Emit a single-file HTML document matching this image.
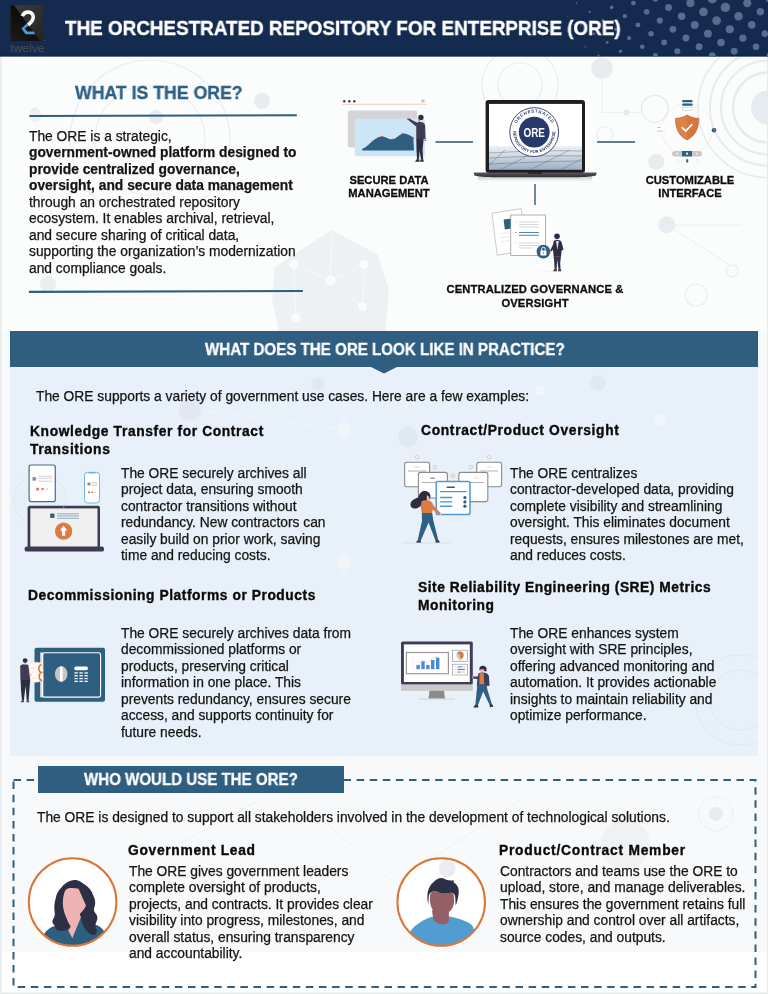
<!DOCTYPE html>
<html><head><meta charset="utf-8">
<style>
*{margin:0;padding:0;box-sizing:border-box}
html,body{width:768px;height:994px;overflow:hidden}
body{position:relative;background:#f8f9fa;font-family:"Liberation Sans",sans-serif;color:#1c1c1c}
.abs{position:absolute}
.t{position:absolute;white-space:nowrap;font-size:13.8px;line-height:16.45px;color:#141414;-webkit-text-stroke:0.25px #141414;will-change:transform}
.h{position:absolute;white-space:nowrap;font-size:13.8px;font-weight:bold;letter-spacing:0.5px;line-height:18.1px;color:#0a0a0a;-webkit-text-stroke:0.35px #0a0a0a;will-change:transform}
.lbl{position:absolute;white-space:nowrap;font-size:11.2px;font-weight:bold;line-height:13px;text-align:center;color:#0d0d0d;-webkit-text-stroke:0.3px #0d0d0d;will-change:transform}
.sq{position:absolute;white-space:nowrap;font-weight:bold;transform-origin:0 0;will-change:transform}
b{font-weight:bold}
</style></head>
<body>
<!-- background decorations -->
<svg class="abs" style="left:0;top:0" width="768" height="994" viewBox="0 0 768 994">
  <rect x="0" y="56" width="768" height="896" fill="#f8f9fa"/>
  <rect x="0" y="56" width="768" height="275" fill="#fbfcfc"/>
  <rect x="0" y="952" width="768" height="42" fill="#ffffff"/>
  <rect x="0" y="0" width="1.5" height="994" fill="#e9eaeb"/>
  <rect x="767" y="0" width="1" height="994" fill="#e9eaeb"/>
  <rect x="0" y="992.5" width="768" height="1.5" fill="#e6e7e8"/>
</svg>


<!-- BG DECOR -->
<svg class="abs" style="left:0;top:56px" width="768" height="280" viewBox="0 56 768 280">
  <g fill="none" stroke="#e9edf1" stroke-width="1.2">
    <circle cx="150" cy="140" r="55"/>
    <circle cx="150" cy="140" r="80"/>
    <circle cx="520" cy="85" r="22"/>
    <circle cx="520" cy="85" r="38"/>
    <circle cx="654.9" cy="108.8" r="13.5" stroke="#e4e9ed"/>
    <circle cx="604.7" cy="134.6" r="8"/>
    <circle cx="696.3" cy="295" r="11" stroke="#eceff2"/>
    <circle cx="732.4" cy="271" r="6"/>
  </g>
  <g fill="none" stroke="#e6ebef">
    <circle cx="768" cy="107.5" r="35" stroke-width="2.5"/>
    <circle cx="768" cy="107.5" r="47" stroke-width="2"/>
    <circle cx="768" cy="107.5" r="58" stroke-width="2"/>
    <circle cx="768" cy="107.5" r="70" stroke-width="1.5"/>
  </g>
  <circle cx="768" cy="107.5" r="17" fill="#e6ebef"/>
  <g fill="#e8ecf0">
    <circle cx="602" cy="68.2" r="10.8"/>
    <circle cx="656.2" cy="161.7" r="8"/>
    <circle cx="666.7" cy="225" r="8.5"/>
    <circle cx="156" cy="117" r="7"/>
    <circle cx="35" cy="113" r="5"/>
    <circle cx="262" cy="101" r="8"/>
  </g>
  <g stroke="#eceff2" stroke-width="1">
    <line x1="602" y1="78" x2="602" y2="112.4"/>
    <line x1="600.6" y1="112.4" x2="641" y2="112.4"/>
    <line x1="666.7" y1="225" x2="742" y2="225"/>
    <line x1="666.7" y1="225" x2="730" y2="265"/>
  </g>
  <circle cx="626.4" cy="112.4" r="3" fill="#e6eaee"/>
  <!-- hexagon network -->
  <polygon points="331.7,230 377.5,254.5 389,290.3 385,336 280,336 272,300 274.4,267.4" fill="#eef1f3"/>
  <g stroke="#f8f9fa" stroke-width="0.8">
    <line x1="293.6" y1="264.5" x2="330.3" y2="280.3"/>
    <line x1="364" y1="264.5" x2="330.3" y2="280.3"/>
    <line x1="362.6" y1="306.6" x2="330.3" y2="280.3"/>
    <line x1="296" y1="318" x2="330.3" y2="280.3"/>
    <line x1="331.7" y1="230" x2="330.3" y2="280.3"/>
    <line x1="293.6" y1="264.5" x2="296" y2="318"/>
    <line x1="364" y1="264.5" x2="362.6" y2="306.6"/>
  </g>
  <g fill="#fafbfc">
    <circle cx="293.6" cy="264.5" r="4.5"/>
    <circle cx="330.3" cy="280.3" r="5"/>
    <circle cx="364" cy="264.5" r="4.5"/>
    <circle cx="362.6" cy="306.6" r="4.5"/>
    <circle cx="296" cy="318" r="4.5"/>
  </g>
</svg>

<!-- HEADER -->
<svg class="abs" style="left:0;top:0" width="768" height="57">
  <rect width="768" height="56.5" fill="#142a4f"/><rect y="54" width="768" height="2.5" fill="#11274b" opacity="0.6"/>
  <g fill="#576d8d"><circle cx="576.6" cy="3.1" r="0.79"/><circle cx="598.5" cy="-1.3" r="1.42"/><circle cx="620.4" cy="-5.7" r="2.06"/><circle cx="567.9" cy="16.2" r="0.51"/><circle cx="589.7" cy="11.8" r="1.15"/><circle cx="611.6" cy="7.4" r="1.80"/><circle cx="633.5" cy="3.1" r="2.44"/><circle cx="655.4" cy="-1.3" r="3.08"/><circle cx="677.3" cy="-5.7" r="3.71"/><circle cx="581.0" cy="24.9" r="0.85"/><circle cx="602.9" cy="20.6" r="1.50"/><circle cx="624.8" cy="16.2" r="2.15"/><circle cx="646.6" cy="11.8" r="2.80"/><circle cx="668.5" cy="7.4" r="3.45"/><circle cx="690.4" cy="3.1" r="4.10"/><circle cx="712.3" cy="-1.3" r="4.74"/><circle cx="734.1" cy="-5.7" r="4.52"/><circle cx="572.2" cy="38.1" r="0.52"/><circle cx="594.1" cy="33.7" r="1.17"/><circle cx="616.0" cy="29.3" r="1.82"/><circle cx="637.9" cy="24.9" r="2.47"/><circle cx="659.8" cy="20.6" r="3.11"/><circle cx="681.6" cy="16.2" r="3.75"/><circle cx="703.5" cy="11.8" r="4.38"/><circle cx="725.4" cy="7.4" r="4.70"/><circle cx="747.3" cy="3.1" r="4.17"/><circle cx="769.2" cy="-1.3" r="3.53"/><circle cx="585.4" cy="46.8" r="0.81"/><circle cx="607.2" cy="42.4" r="1.46"/><circle cx="629.1" cy="38.1" r="2.10"/><circle cx="651.0" cy="33.7" r="2.73"/><circle cx="672.9" cy="29.3" r="3.35"/><circle cx="694.8" cy="24.9" r="3.93"/><circle cx="716.6" cy="20.6" r="4.36"/><circle cx="738.5" cy="16.2" r="4.25"/><circle cx="760.4" cy="11.8" r="3.74"/><circle cx="598.5" cy="55.6" r="1.07"/><circle cx="620.4" cy="51.2" r="1.70"/><circle cx="642.3" cy="46.8" r="2.32"/><circle cx="664.1" cy="42.4" r="2.92"/><circle cx="686.0" cy="38.1" r="3.48"/><circle cx="707.9" cy="33.7" r="3.92"/><circle cx="729.8" cy="29.3" r="4.07"/><circle cx="751.7" cy="24.9" r="3.79"/><circle cx="773.5" cy="20.6" r="3.30"/><circle cx="633.5" cy="59.9" r="1.90"/><circle cx="655.4" cy="55.6" r="2.48"/><circle cx="677.3" cy="51.2" r="3.02"/><circle cx="699.1" cy="46.8" r="3.47"/><circle cx="721.0" cy="42.4" r="3.73"/><circle cx="742.9" cy="38.1" r="3.67"/><circle cx="764.8" cy="33.7" r="3.33"/><circle cx="690.4" cy="59.9" r="3.02"/><circle cx="712.3" cy="55.6" r="3.33"/><circle cx="734.2" cy="51.2" r="3.42"/><circle cx="756.0" cy="46.8" r="3.25"/><circle cx="747.3" cy="59.9" r="3.05"/><circle cx="769.2" cy="55.6" r="2.80"/></g>
  <defs>
    <linearGradient id="lgA" x1="0" y1="0" x2="1" y2="1">
      <stop offset="0" stop-color="#3c3c3c"/><stop offset="1" stop-color="#232323"/>
    </linearGradient>
    <linearGradient id="lgB" x1="1" y1="0" x2="0" y2="1">
      <stop offset="0" stop-color="#000000"/><stop offset="1" stop-color="#1c1c1c"/>
    </linearGradient>
  </defs>
  <rect x="10.3" y="5.2" width="32.9" height="35.8" fill="url(#lgA)"/>
  <polygon points="10.3,5.2 14,5.2 40,41 10.3,41" fill="url(#lgB)"/>
  <path d="M22.3 16.2 C23.5 13.2 26.5 12 28.6 12.1 C31.8 12.3 33.4 14.8 33.2 17.6 C33 20.6 30.5 23 28 25" fill="none" stroke="#fff" stroke-width="3.6" stroke-linecap="butt"/>
  <polygon points="26.8,23.6 28.8,25.6 24.8,28.6 27.2,31.4 33.6,31.4 35.2,34.2 25.6,34.2 21.4,28.6" fill="#4b9bd6"/>
  <text x="10" y="51.5" font-family="Liberation Sans" font-size="11.5" fill="#4e4e4c" textLength="34.5" lengthAdjust="spacingAndGlyphs">twelve</text>
  <circle cx="44.6" cy="40.6" r="0.7" fill="#556"/>
</svg>

<div class="sq" style="left:65px;top:17.3px;font-size:19.9px;color:#fff;line-height:22px;transform:scaleX(0.948);-webkit-text-stroke:0.35px #fff">THE ORCHESTRATED REPOSITORY FOR ENTERPRISE (ORE)</div>

<!-- SECTION 1 ILLUSTRATIONS -->
<svg class="abs" style="left:0;top:0" width="768" height="340" viewBox="0 0 768 340">
  <!-- connectors -->
  <g stroke="#627c91" stroke-width="1.8">
    <line x1="435.5" y1="142" x2="473" y2="142"/>
    <line x1="597" y1="142" x2="635" y2="142"/>
    <line x1="535" y1="184" x2="535" y2="205"/>
  </g>
  <!-- secure data browser bar -->
  <g fill="#3b3a4c"><circle cx="344.3" cy="101.3" r="1.2"/><circle cx="349.3" cy="101.3" r="1.2"/><circle cx="354.3" cy="101.3" r="1.2"/></g>
  <g stroke="#6b6b7b" stroke-width="0.6"><line x1="421.5" y1="100.3" x2="424.5" y2="100.3"/><line x1="421.5" y1="101.8" x2="424.5" y2="101.8"/></g>
  <line x1="342" y1="104.3" x2="427" y2="104.3" stroke="#eab08e" stroke-width="0.6"/>
  <rect x="347.8" y="110.4" width="69.6" height="37" rx="2.5" fill="#d4d4d6"/>
  <rect x="354.7" y="118.8" width="70.2" height="37.4" rx="2" fill="#cde6f5"/>
  <path d="M362.3 150.5 L362.3 148.8 C366 147.5 369.5 143.6 372.4 141.2 C376 138.3 379.5 136.3 382.4 136.6 C386 137 389 139.8 392.4 139.3 C396 138.8 399 134.6 402.4 133.7 C406.5 132.8 410.5 135.5 413.4 137.8 L414 150.5 Z" fill="#2e5f80"/>
  <g fill="#b5564e"><circle cx="372.4" cy="141.2" r="0.8"/><circle cx="382.4" cy="136.6" r="0.8"/><circle cx="392.4" cy="139.3" r="0.8"/><circle cx="402.4" cy="133.7" r="0.8"/><circle cx="413.1" cy="137.6" r="0.8"/></g>
  <!-- person -->
  <path d="M417.5 123 L408.8 118.3 L407.6 119.6 L416.2 126.6 Z" fill="#3f3d56"/>
  <circle cx="407.9" cy="118.9" r="0.9" fill="#b56b5e"/>
  <path d="M416.2 124 C416.5 122.3 418.8 121.8 421 122 C423.8 122.2 425 123.6 425.2 126.5 L425.6 139 L416.3 139 Z" fill="#3f3d56"/>
  <circle cx="425.4" cy="140.2" r="0.9" fill="#b56b5e"/>
  <path d="M416.3 138.8 L423.6 138.8 L422.6 150 L423.2 159.3 L420.9 159.3 L419.6 150.5 L419 159.3 L417 159.3 L416.5 150 Z" fill="#2f2e41"/>
  <path d="M416.5 159.2 L419.4 159.2 L419.6 161.8 L415 161.8 Z M420.8 159.2 L423.4 159.2 L423.8 161.8 L419.8 161.8 Z" fill="#2f2e41"/>
  <circle cx="420.9" cy="117.4" r="2.7" fill="#2f2e41"/>
  <path d="M418.2 117.6 C418.4 119.3 419.1 120 420 120 L420 121.8 L418.6 121.8 Z" fill="#c48a7c"/>

  <!-- laptop -->
  <defs>
    <linearGradient id="floorG" x1="0" y1="0" x2="0" y2="1">
      <stop offset="0" stop-color="#eef1f4"/><stop offset="0.35" stop-color="#d5dde6"/><stop offset="1" stop-color="#9eb0c4"/>
    </linearGradient>
    <linearGradient id="baseG" x1="0" y1="0" x2="0" y2="1">
      <stop offset="0" stop-color="#5a5a60"/><stop offset="1" stop-color="#2b2b30"/>
    </linearGradient>
    <clipPath id="scrClip"><rect x="489" y="103.9" width="93" height="65.5"/></clipPath>
  </defs>
  <rect x="485.6" y="100" width="99.4" height="73" rx="3" fill="#1d1d22"/>
  <rect x="489" y="103.9" width="93" height="65.5" fill="#ffffff"/>
  <rect x="489" y="146" width="93" height="23.4" fill="url(#floorG)"/>
  <g clip-path="url(#scrClip)" stroke="#4d5e75" stroke-width="0.5" fill="none" opacity="0.8">
    <path d="M489 153 C510 152 540 150 582 151"/>
    <path d="M489 158 C515 157 545 155 582 156"/>
    <path d="M489 164 C520 163 550 161 582 161"/>
    <path d="M500 170 L535 152"/>
    <path d="M530 170 L570 150"/>
    <path d="M560 170 L590 155"/>
    <path d="M489 165 L505 150"/>
  </g>
  <circle cx="534.2" cy="132.1" r="24.4" fill="#fff" stroke="#2b3a6b" stroke-width="0.9"/>
  <circle cx="534.2" cy="132.1" r="15.4" fill="#283a6c"/>
  <defs>
    <path id="arcTop" d="M514.7 132.1 A19.5 19.5 0 0 1 553.7 132.1"/>
    <path id="arcBot" d="M513.2 132.1 A21 21 0 0 0 555.2 132.1"/>
  </defs>
  <text font-family="Liberation Sans" font-weight="bold" font-size="4.4" fill="#2b3a6b" letter-spacing="0.6"><textPath href="#arcTop" startOffset="50%" text-anchor="middle">ORCHESTRATED</textPath></text>
  <text font-family="Liberation Sans" font-weight="bold" font-size="4.2" fill="#2b3a6b" letter-spacing="0.1"><textPath href="#arcBot" startOffset="50%" text-anchor="middle">REPOSITORY FOR ENTERPRISE</textPath></text>
  <text x="534.2" y="137" font-family="Liberation Sans" font-weight="bold" font-size="13" fill="#fff" text-anchor="middle" textLength="21.5" lengthAdjust="spacingAndGlyphs">ORE</text>
  <defs><linearGradient id="shG" x1="0" y1="0" x2="0" y2="1"><stop offset="0" stop-color="#c9ccd0"/><stop offset="1" stop-color="#c9ccd0" stop-opacity="0"/></linearGradient></defs><rect x="478" y="176.5" width="114" height="5" fill="url(#shG)"/>
  <path d="M473.7 172.5 L596.7 172.5 L596 175.5 C590 177 580 177.3 570 177.3 L500 177.3 C490 177.3 480 177 474.4 175.5 Z" fill="url(#baseG)"/>
  <rect x="528" y="172.5" width="14" height="1.3" rx="0.6" fill="#1a1a1d"/>

  <!-- customizable interface -->
  <circle cx="687" cy="129" r="25.5" fill="none" stroke="#f6d8c6" stroke-width="0.45"/>
  <rect x="682.3" y="100" width="10.2" height="2.2" rx="0.6" fill="#2e5f80"/>
  <rect x="682.3" y="103.6" width="10.2" height="2.2" rx="0.6" fill="#2e5f80"/>
  <rect x="682.6" y="107.3" width="9.6" height="3" rx="0.8" fill="#fff" stroke="#9fb6c8" stroke-width="0.5"/>
  <rect x="655" y="123.6" width="9.7" height="11.4" rx="1" fill="#fff" stroke="#eef0f2" stroke-width="0.5"/>
  <g stroke="#9cc3de" stroke-width="0.8"><line x1="656.8" y1="127.5" x2="661" y2="127.5"/><line x1="656.8" y1="131.2" x2="663" y2="131.2"/></g>
  <circle cx="714" cy="130.3" r="2.3" fill="#2e5f80"/>
  <circle cx="714" cy="130.3" r="0.8" fill="#7b8a9a"/>
  <path d="M687 115 C691 117.5 695 118.3 698.7 118.3 C699 127 696 135.5 687 140 C678 135.5 675.3 127 675.6 118.3 C679.3 118.3 683 117.5 687 115 Z" fill="#d9773a" stroke="#9a4a22" stroke-width="0.5"/>
  <path d="M687 115.6 C683 118 679.5 118.8 676.2 118.8 C676 127 678.6 135 687 139.3 Z" fill="#e08a50" opacity="0.6"/>
  <path d="M682.3 127.8 L685.8 131 L691.8 124.6" fill="none" stroke="#fff" stroke-width="1.8" stroke-linecap="round" stroke-linejoin="round"/>
  <rect x="672" y="151" width="30" height="5.4" rx="2.7" fill="#c9c9cb"/>
  <rect x="682" y="151" width="10" height="5.4" fill="#2e5f80"/>
  <g fill="#eee"><rect x="676" y="152.8" width="2" height="1.8"/><rect x="696" y="152.8" width="2" height="1.8"/></g>
  <rect x="686" y="152.6" width="2" height="2" fill="#dfe8ef"/>
  <g fill="none" stroke="#e3e3e3" stroke-width="0.4"><rect x="676.5" y="159.5" width="1.8" height="2.8"/><rect x="696.5" y="159.5" width="1.8" height="2.8"/></g>
  <rect x="686.2" y="159.3" width="2" height="3.2" fill="#2e5f80"/>

  <!-- centralized governance -->
  <polygon points="492,213.2 521.2,208.6 526.4,250.4 497.2,255.2" fill="#fff" stroke="#a9a9ab" stroke-width="0.6"/>
  <polygon points="503.6,219.6 512,218.4 513.2,228.2 504.8,229.4" fill="#2e5f80"/>
  <g stroke="#e0e0e0" stroke-width="0.7"><line x1="499.5" y1="234" x2="509" y2="232.5"/><line x1="500" y1="238" x2="509.5" y2="236.5"/><line x1="500.6" y1="242" x2="510" y2="240.5"/></g>
  <rect x="510.8" y="215" width="34.7" height="40.5" fill="#fff" stroke="#8d8d90" stroke-width="0.7"/>
  <g stroke="#bdbdbf" stroke-width="0.6"><line x1="519" y1="222" x2="539" y2="222"/><line x1="519" y1="224.5" x2="539" y2="224.5"/><line x1="519" y1="227" x2="539" y2="227"/><line x1="519" y1="243" x2="539" y2="243"/><line x1="519" y1="245.5" x2="539" y2="245.5"/><line x1="519" y1="248" x2="533" y2="248"/></g>
  <g stroke="#3e7ca8" stroke-width="0.9"><line x1="519" y1="232.5" x2="539" y2="232.5"/><line x1="519" y1="235.3" x2="539" y2="235.3"/></g>
  <g fill="#aaa"><circle cx="516" cy="222" r="0.5"/><circle cx="516" cy="232.5" r="0.6" fill="#3e7ca8"/><circle cx="516" cy="243" r="0.5"/></g>
  <circle cx="543.4" cy="251.6" r="6.8" fill="#2e5f80"/>
  <rect x="540.4" y="250.6" width="6" height="4.8" rx="0.6" fill="#fff"/>
  <path d="M541.6 250.8 L541.6 249 A1.8 1.8 0 0 1 545.2 249 L545.2 250.8" fill="none" stroke="#fff" stroke-width="0.9"/>
  <circle cx="543.4" cy="252.9" r="0.6" fill="#2e5f80"/>
  <!-- person -->
  <circle cx="557" cy="236.2" r="2.8" fill="#2f2e41"/>
  <path d="M555.2 237 C555.3 238.6 556 239.6 557.4 239.6 L557.6 241 L555.4 241 Z" fill="#e3b4a5"/>
  <path d="M553.8 241.2 C554.5 240.2 556 240 557.8 240 C560.2 240.1 561.3 241 561.8 243 L563.5 249.8 L561.6 250.4 L561 256.5 L553.6 256.5 L553 249.8 L550.8 251.8 L550.2 250.4 L552.8 245 Z" fill="#2f2e41"/>
  <path d="M556 241 L557.4 250 L558.8 241 Z" fill="#ddd"/>
  <path d="M553.6 256.3 L561 256.3 L560.2 263 L560.6 269.5 L558.6 269.5 L557.2 260 L556.6 269.5 L554.6 269.5 L554.2 262 Z" fill="#34334a"/>
  <path d="M554.2 269.3 L556.8 269.3 L557 271.4 L553 271.4 Z M558.4 269.3 L560.8 269.3 L561.4 271.4 L557.8 271.4 Z" fill="#2f2e41"/>
  <path d="M549.6 251.5 L551.2 251 L551.6 252.6 L550.2 253 Z" fill="#e3b4a5"/>
  <line x1="540" y1="271.4" x2="570" y2="271.4" stroke="#eceef0" stroke-width="0.6"/>
</svg>

<!-- SECTION 1 -->
<div class="sq" style="left:74.5px;top:82.5px;font-size:18.2px;color:#2e5f86;line-height:20px;transform:scaleX(0.972);-webkit-text-stroke:0.3px #2e5f86">WHAT IS THE ORE?</div>
<svg class="abs" style="left:0;top:100px" width="320" height="200" viewBox="0 100 320 200"><circle cx="35.1" cy="116.5" r="6" fill="#eef1f4"/><circle cx="48" cy="284" r="8" fill="#eceff2"/><line x1="29.4" y1="116" x2="296.8" y2="115.2" stroke="#2f5e80" stroke-width="2.1"/><line x1="28.9" y1="291.9" x2="302.9" y2="291" stroke="#2f5e80" stroke-width="2.1"/></svg>
<div class="t" style="left:28.9px;top:129px">The ORE is a strategic,<br><b>government-owned platform designed to<br>provide centralized governance,<br>oversight, and secure data management</b><br>through an orchestrated repository<br>ecosystem. It enables archival, retrieval,<br>and secure sharing of critical data,<br>supporting the organization’s modernization<br>and compliance goals.</div>


<div class="lbl" style="left:338px;top:174px;width:102px">SECURE DATA<br>MANAGEMENT</div>
<div class="lbl" style="left:630px;top:174px;width:120px">CUSTOMIZABLE<br>INTERFACE</div>
<div class="lbl" style="left:434.6px;top:281.5px;width:200px;line-height:14px;letter-spacing:0.15px">CENTRALIZED GOVERNANCE &amp;<br>OVERSIGHT</div>

<!-- SECTION 2 -->
<div class="abs" style="left:10px;top:331px;width:748px;height:425px;background:#e8f1f9"></div>
<svg class="abs" style="left:10px;top:366px" width="748" height="390" viewBox="10 366 748 390">
  <line x1="344" y1="366" x2="344" y2="756" stroke="#f0f5f9" stroke-width="1.2"/>
  <line x1="200" y1="410" x2="344" y2="430" stroke="#f0f5f9" stroke-width="1"/>
  <line x1="344" y1="430" x2="470" y2="380" stroke="#f0f5f9" stroke-width="1"/>
  <g fill="#f2f6fa"><circle cx="344" cy="430" r="7"/><circle cx="344" cy="562" r="7"/><circle cx="660" cy="420" r="6"/><circle cx="540" cy="390" r="5"/></g>
  <g fill="#e1e9f0"><circle cx="190" cy="410" r="11"/><circle cx="318" cy="384" r="7"/><circle cx="408" cy="437" r="10"/><circle cx="598" cy="383" r="8"/></g>
  <g fill="none" stroke="#e0e8ef" stroke-width="1"><circle cx="40" cy="500" r="16"/><circle cx="40" cy="500" r="26"/><circle cx="740" cy="700" r="30"/><circle cx="740" cy="700" r="45"/></g>
</svg>
<div class="abs" style="left:10px;top:331px;width:748px;height:36px;background:#2f5e80"></div>
<svg class="abs" style="left:369px;top:366px" width="30" height="8"><polygon points="0,0 30,0 15,7.5" fill="#2f5e80"/></svg>
<div class="sq" style="left:205px;top:340.5px;font-size:16px;color:#fff;line-height:18px;transform:scaleX(0.946);-webkit-text-stroke:0.3px #fff">WHAT DOES THE ORE LOOK LIKE IN PRACTICE?</div>

<!-- SECTION 2 ILLUSTRATIONS -->
<svg class="abs" style="left:0;top:440px" width="768" height="290" viewBox="0 440 768 290">
  <!-- knowledge transfer -->
  <rect x="29.1" y="465" width="26.2" height="36.6" rx="2.2" fill="#fff" stroke="#3d6f94" stroke-width="1.2"/>
  <rect x="32.5" y="477.2" width="3.6" height="3.4" fill="#8a8a8a"/>
  <g stroke="#b3b3b3" stroke-width="0.6"><line x1="38.2" y1="476.3" x2="52" y2="476.3"/><line x1="38.2" y1="478.3" x2="52" y2="478.3"/><line x1="38.2" y1="481.2" x2="52" y2="481.2"/></g>
  <g fill="#dd7a3f"><circle cx="37.6" cy="489" r="1.6"/><circle cx="42.6" cy="489" r="1.2"/><circle cx="47.3" cy="489" r="0.6"/></g>
  <rect x="84.5" y="472.4" width="15" height="30.6" rx="2.8" fill="#fff" stroke="#62aee2" stroke-width="0.9"/>
  <rect x="88.5" y="472.3" width="7" height="1.3" rx="0.6" fill="#62aee2"/>
  <rect x="87.5" y="482.6" width="3" height="2.8" fill="#8a8a8a"/>
  <g stroke="#b3b3b3" stroke-width="0.5"><line x1="91.5" y1="482.5" x2="97.5" y2="482.5"/><line x1="91.5" y1="484" x2="97.5" y2="484"/><line x1="91.5" y1="485.6" x2="97.5" y2="485.6"/></g>
  <g fill="#dd7a3f"><circle cx="89" cy="492.3" r="1.1"/><circle cx="92" cy="492.3" r="0.9"/><circle cx="95.3" cy="492.3" r="0.5"/></g>
  <rect x="27.6" y="505.8" width="72.4" height="42" rx="2" fill="#3d3b52"/>
  <rect x="30.3" y="508.4" width="67.2" height="38.8" fill="#f0f0f0"/>
  <circle cx="63.8" cy="507.1" r="0.6" fill="#ddd"/>
  <rect x="50.2" y="513.6" width="4.3" height="4.3" fill="#2e5f80"/>
  <g stroke="#4b7ea3" stroke-width="0.6"><line x1="57" y1="513.8" x2="79" y2="513.8"/><line x1="57" y1="515.9" x2="79" y2="515.9"/><line x1="57" y1="518.3" x2="79" y2="518.3"/></g>
  <circle cx="63.6" cy="531.2" r="8.6" fill="#dd7a3f"/>
  <path d="M63.6 525.6 L67.2 530.6 L65.2 530.6 L65.2 535.8 L62 535.8 L62 530.6 L60 530.6 Z" fill="#fff"/>
  <rect x="24.6" y="546.6" width="79.4" height="5" rx="2.2" fill="#3d3b52"/>

  <!-- contract / product oversight -->
  <g fill="#fff" stroke="#8a8a8a" stroke-width="1.1">
    <rect x="404.6" y="462.2" width="25" height="24.5" rx="2.2"/>
    <rect x="476.8" y="462.2" width="24.8" height="24.5" rx="2.2"/>
    <rect x="418.4" y="472.4" width="29" height="25.6" rx="2.2"/>
    <rect x="458.8" y="472.4" width="29" height="29.2" rx="2.2"/>
  </g>
  <g stroke="#b0b0b0" stroke-width="1"><line x1="408" y1="471" x2="426" y2="471"/><line x1="480" y1="471" x2="498" y2="471"/><line x1="422" y1="482.5" x2="444" y2="482.5"/><line x1="462" y1="482.5" x2="484" y2="482.5"/></g>
  <g stroke="#e8c6b0" stroke-width="0.8"><line x1="414" y1="467" x2="419" y2="467"/><line x1="487" y1="467" x2="492" y2="467"/><line x1="474" y1="478" x2="479" y2="478"/></g>
  <rect x="430" y="477.4" width="5" height="1.6" rx="0.8" fill="#9a9a9a"/>
  <g fill="none" stroke="#aaa" stroke-width="0.4"><circle cx="417" cy="457" r="1.8"/><circle cx="435" cy="467.2" r="1.8"/><circle cx="471" cy="467.2" r="1.8"/><circle cx="489" cy="457" r="1.8"/></g>
  <circle cx="452.8" cy="475.7" r="1.8" fill="none" stroke="#e29a6c" stroke-width="0.5"/>
  <rect x="436.2" y="481.5" width="33.8" height="33" rx="1.8" fill="#fff" stroke="#4a98d6" stroke-width="1.5"/>
  <rect x="446.5" y="486.5" width="8.5" height="1.5" rx="0.75" fill="#2e5f80"/>
  <g stroke="#4a98d6" stroke-width="1.4" stroke-linecap="round"><line x1="440.6" y1="491.6" x2="466" y2="491.6"/><line x1="440.6" y1="497.5" x2="451.8" y2="497.5"/><line x1="440.6" y1="501.9" x2="451.8" y2="501.9"/><line x1="440.6" y1="506.2" x2="451.8" y2="506.2"/></g>
  <g fill="#2e5f80"><circle cx="464.9" cy="497.5" r="1.6"/><circle cx="464.9" cy="501.9" r="1.6"/><circle cx="464.9" cy="506.2" r="1.6"/></g>
  <!-- woman -->
  <path d="M423.5 491 C427.5 490.3 430.8 492.8 430.5 496.8 C430.2 499.3 428.4 500.2 426.4 500.6 C424.4 503.2 421.2 506.6 417.2 508.2 C413.2 509.4 409.8 507.2 410.6 503.5 C411.4 500.4 414.8 498.8 418 497.6 C419.3 493.6 420.8 491.5 423.5 491 Z" fill="#2f2e41"/>
  <path d="M426.8 495.6 C428.6 495.6 429.4 497 429.2 498.6 C429 500 428 500.8 426.8 500.4 Z" fill="#f2bcae"/>
  <path d="M421.5 501.6 C423 500.3 427 500 429.5 500.8 C432 502 433 504 433.6 506 L441 513.2 L440 514.9 L432.5 509.6 L432.2 513.3 L421.8 513.3 L420.8 507 Z" fill="#dd7a3f"/>
  <circle cx="440.7" cy="514.3" r="1" fill="#f2bcae"/>
  <path d="M421.8 513 L432.2 513 L433.2 520 L438.4 540.4 L435.6 541 L428.6 522.5 L420.6 541 L417.6 540.6 L422 521 Z" fill="#2e6085"/>
  <path d="M417.4 540.4 L420.8 540.8 L421 542.8 L415.8 542.6 Z M435.4 540.8 L438.6 540.2 L440 542.6 L435.8 542.8 Z" fill="#2f2e41"/>
  <line x1="402" y1="543" x2="450" y2="543" stroke="#c8c8c8" stroke-width="0.5"/>

  <!-- safe -->
  <rect x="34.5" y="647.8" width="70.5" height="54" rx="2" fill="#2e5f80"/>
  <rect x="40.2" y="652.4" width="3" height="44.9" fill="#e2e2e2"/>
  <rect x="42.6" y="652.8" width="58" height="44.3" rx="2.2" fill="none" stroke="#fff" stroke-width="1.1"/>
  <ellipse cx="61.2" cy="674" rx="6.3" ry="7.8" fill="#c6c6c8"/>
  <rect x="60" y="666.2" width="2.6" height="15.6" rx="1.3" fill="#fff"/>
  <rect x="74.2" y="666.6" width="13.8" height="3.6" rx="1.8" fill="#fff"/>
  <g fill="#fff">
    <rect x="74.4" y="672.3" width="3.4" height="1.3"/><rect x="79.4" y="672.3" width="3.4" height="1.3"/><rect x="84.4" y="672.3" width="3.4" height="1.3"/>
    <rect x="74.4" y="675.1" width="3.4" height="1.3"/><rect x="79.4" y="675.1" width="3.4" height="1.3"/><rect x="84.4" y="675.1" width="3.4" height="1.3"/>
    <rect x="74.4" y="677.9" width="3.4" height="1.3"/><rect x="79.4" y="677.9" width="3.4" height="1.3"/><rect x="84.4" y="677.9" width="3.4" height="1.3"/>
    <rect x="74.4" y="680.7" width="3.4" height="1.3"/><rect x="79.4" y="680.7" width="3.4" height="1.3"/><rect x="84.4" y="680.7" width="3.4" height="1.3"/>
  </g>
  <!-- safe person + papers -->
  <path d="M20.2 666 C20.6 664.8 22.5 664.2 25 664.2 C27.8 664.3 29.6 665.2 30 667 L30.4 680.2 L20.4 680.2 Z" fill="#3f3d56"/>
  <path d="M20.6 680 L30.2 680 L29.4 690 L28.6 700.8 L26.8 700.8 L25.6 686 L23.8 700.8 L22 700.8 L21 690 Z" fill="#2f2e41"/>
  <path d="M21.6 700.6 L23.8 700.6 L24.2 702.2 L20.4 702.2 Z M26.8 700.6 L28.8 700.6 L29.6 702.2 L26.2 702.2 Z" fill="#505060"/>
  <circle cx="25.1" cy="660.6" r="2.4" fill="#2f2e41"/>
  <path d="M24 661.6 C24.2 663 25 663.6 26.2 663.4 L26.4 664.6 L24.2 664.6 Z" fill="#e3b4a5"/>
  <path d="M28.6 664.5 C31 662.5 35 662 38.5 662.4 L42.6 663.6 L43.2 680.5 C40 682 35 682.6 31.2 682.4 C30 678 29.4 672 28.6 664.5 Z" fill="#fffaf6" stroke="#f3dccd" stroke-width="0.5"/>
  <line x1="29.5" y1="672.6" x2="42" y2="671.8" stroke="#f3dccd" stroke-width="0.5"/>
  <g stroke="#efc2a6" stroke-width="0.5"><line x1="31" y1="668" x2="35" y2="668"/><line x1="32" y1="678" x2="36" y2="678"/></g>
  <path d="M41.6 664.4 C39.6 665 38.6 667 38.8 669.4 C39 671 40 672 41.4 672.4 C39.8 673.2 39 675 39.2 677 C39.4 679 40.6 680.4 42.2 680.6" fill="none" stroke="#dd7a3f" stroke-width="1.6"/>
  <rect x="29.6" y="674" width="2" height="1.6" fill="#e3b4a5"/>

  <!-- SRE monitor -->
  <rect x="401" y="641.5" width="71.8" height="43.2" rx="1.8" fill="#3f3d56"/>
  <rect x="403.9" y="644.4" width="65.9" height="37.6" fill="#fff"/>
  <rect x="401" y="684.5" width="71.8" height="6.3" fill="#c9c9c9"/>
  <path d="M429.5 690.8 L444 690.8 L445 698.4 L428.5 698.4 Z" fill="#8a8a8c"/>
  <line x1="419" y1="699" x2="455" y2="699" stroke="#c4c4c4" stroke-width="0.7"/>
  <rect x="406.4" y="652.5" width="42" height="21.2" fill="#fff" stroke="#999" stroke-width="1.2"/>
  <g stroke="#dddddd" stroke-width="0.4"><line x1="412.7" y1="655.6" x2="412.7" y2="669.3"/><line x1="412.7" y1="669.3" x2="442.5" y2="669.3"/></g>
  <g fill="#4a89d6">
    <rect x="416.4" y="664.9" width="3.4" height="4.2"/><rect x="421.3" y="661.3" width="3.4" height="7.8"/><rect x="426.2" y="664.9" width="3.4" height="4.2"/><rect x="431" y="660" width="3.4" height="9.1"/><rect x="436" y="657.6" width="3.4" height="11.5"/>
  </g>
  <polyline points="418.1,663.2 423,659.6 427.9,663.2 432.7,658.3 437.7,655.9" fill="none" stroke="#999" stroke-width="0.3"/>
  <rect x="452.4" y="650.2" width="15" height="11.2" fill="#fff" stroke="#9c9c9c" stroke-width="0.7"/>
  <circle cx="460" cy="655.2" r="3.6" fill="#c8c8c8"/>
  <path d="M460 651.6 A3.6 3.6 0 0 1 460 658.8 Z" fill="#e07a3c"/>
  <path d="M460 655.2 L460 651.6 A3.6 3.6 0 0 0 457.2 653 Z" fill="#5aa0d8"/>
  <rect x="458.6" y="659" width="1.2" height="1.5" fill="#9cc8ea"/><rect x="460.6" y="659" width="1.2" height="1.5" fill="#f0b890"/>
  <rect x="452.4" y="664.2" width="15" height="10.8" fill="#fff" stroke="#9c9c9c" stroke-width="0.7"/>
  <g fill="#5aa0d8"><rect x="457.4" y="666.3" width="5" height="1.2"/><rect x="457.4" y="668.9" width="7.5" height="1.2" fill="#4a89d6"/><rect x="457.4" y="671.5" width="3" height="1.2"/></g>
  <g fill="#ddd"><rect x="462.4" y="666.3" width="3" height="1.2"/><rect x="460.4" y="671.5" width="5" height="1.2"/></g>
  <g fill="#888"><circle cx="455.2" cy="666.9" r="0.45"/><circle cx="455.2" cy="669.5" r="0.45"/><circle cx="455.2" cy="672.1" r="0.45"/></g>
  <!-- SRE person -->
  <path d="M479.3 669 C479.3 666.8 481 665.8 482.8 665.8 C485 665.8 486.6 667 486.6 669.4 L486.4 671.6 L479.6 670.2 Z" fill="#2f2e41"/>
  <path d="M480.2 669.3 L484.2 669.3 C484.4 670.8 483.8 671.8 482.3 671.9 C481 671.9 480.3 671 480.2 669.3 Z" fill="#f0b0a8"/>
  <path d="M478.5 673.3 C479.5 672.6 481 672.4 483 672.6 C486 672.8 488.4 673.6 489 676.4 L489.5 685.8 L476.8 686.6 L477.4 679 L472.8 678.4 L472.6 676.6 L477.8 676.4 Z" fill="#3f3d56"/>
  <path d="M479.6 673.2 L483.8 673.2 L484.2 684.6 L479.2 684.6 Z" fill="#dd7a3f"/>
  <circle cx="472.6" cy="677.3" r="0.8" fill="#f0b0a8"/>
  <path d="M477.4 684.3 L486.4 684.3 L487.5 690 L492 704.6 L489.8 705.2 L483.2 691.4 L477.8 705.4 L475.3 705.2 L476.8 690 Z" fill="#2e6085"/>
  <path d="M475 705 L478 705 L478.4 707.4 L473.2 707.4 Z M489.6 704.6 L492.2 704.2 L493.4 706.6 L490 707.2 Z" fill="#2f2e41"/>
</svg>

<div class="t" style="left:35.5px;top:389.2px">The ORE supports a variety of government use cases. Here are a few examples:</div>

<div class="h" style="left:30px;top:423.2px;letter-spacing:0.62px">Knowledge Transfer for Contract<br>Transitions</div>
<div class="t" style="left:121px;top:466px">The ORE securely archives all<br>project data, ensuring smooth<br>contractor transitions without<br>redundancy. New contractors can<br>easily build on prior work, saving<br>time and reducing costs.</div>

<div class="h" style="left:421px;top:422.2px;letter-spacing:0.68px">Contract/Product Oversight</div>
<div class="t" style="left:509.5px;top:466px">The ORE centralizes<br>contractor-developed data, providing<br>complete visibility and streamlining<br>oversight. This eliminates document<br>requests, ensures milestones are met,<br>and reduces costs.</div>

<div class="h" style="left:28px;top:587.1px;letter-spacing:0.55px">Decommissioning Platforms or Products</div>
<div class="t" style="left:120.8px;top:625.6px">The ORE securely archives data from<br>decommissioned platforms or<br>products, preserving critical<br>information in one place. This<br>prevents redundancy, ensures secure<br>access, and supports continuity for<br>future needs.</div>

<div class="h" style="left:418.4px;top:579.2px;letter-spacing:0.52px">Site Reliability Engineering (SRE) Metrics<br>Monitoring</div>
<div class="t" style="left:509.5px;top:625.5px">The ORE enhances system<br>oversight with SRE principles,<br>offering advanced monitoring and<br>automation. It provides actionable<br>insights to maintain reliability and<br>optimize performance.</div>

<svg class="abs" style="left:0;top:794px" width="768" height="158" viewBox="0 794 768 158">
  <circle cx="625" cy="845" r="25" fill="#eff1f3"/>
  <circle cx="715.8" cy="813.9" r="17" fill="none" stroke="#eceff1" stroke-width="1"/>
  <circle cx="715.8" cy="813.9" r="7" fill="#e8ebee"/>
  <g stroke="#eef0f2" stroke-width="1">
    <line x1="300" y1="800" x2="470" y2="950"/>
    <line x1="520" y1="800" x2="400" y2="880"/>
    <line x1="150" y1="860" x2="260" y2="800"/>
  </g>
</svg>
<!-- SECTION 3 -->
<svg class="abs" style="left:0;top:770px" width="768" height="224">
  <path d="M13.5 10 H38 M343.5 10 H755.5 V217 H13.5 V10" fill="none" stroke="#2f5e80" stroke-width="2" stroke-dasharray="7.5 5.6"/>
</svg>
<div class="abs" style="left:38px;top:765.5px;width:306px;height:27.5px;background:#2f5e80"></div>
<div class="sq" style="left:84px;top:770.5px;font-size:16px;color:#fff;line-height:18px;transform:scaleX(0.943);-webkit-text-stroke:0.3px #fff">WHO WOULD USE THE ORE?</div>
<div class="t" style="left:36.8px;top:809.6px">The ORE is designed to support all stakeholders involved in the development of technological solutions.</div>

<!-- SECTION 3 AVATARS -->
<svg class="abs" style="left:0;top:850px" width="768" height="105" viewBox="0 850 768 105">
  <defs>
    <clipPath id="cA"><circle cx="72.6" cy="902" r="43.5"/></clipPath>
    <clipPath id="cB"><circle cx="441.2" cy="902" r="43.5"/></clipPath>
  </defs>
  <circle cx="72.6" cy="902" r="43.5" fill="#fff"/>
  <g clip-path="url(#cA)">
    <path d="M42 938 C45 931 50 927 56 925.5 L66 925 L80 916 L85 916 L90 924 C96 924 101 926.5 104 931 L104 950 L42 950 Z" fill="#2e5f80"/>
    <path d="M74.7 880 C79 880 81.5 882.5 84 884 C89 887 92 891 93.5 896 C95 899 95.5 902 95 905 C94 908 93.5 910 94.5 912 C96.5 914 98 917 97.3 919.5 C96.5 922 95 924 95.5 927 C97 929.5 97.5 932 95.5 934.5 C93 936 89 934 87 931 C85 929 83.5 927 82.5 924 L80.9 917.2 L70.8 926 C70 928.5 66 931 61.4 930.9 C57 930.5 54.5 929 55.2 926 C52.5 924 51.5 921 53.5 918.5 C55 916 55 914 54.5 911 C54 907 54.5 903 55.5 899 C56.5 894 58 891 61 888 C64 884 69 880 74.7 880 Z" fill="#2d2f44"/>
    <path d="M68.4 888.3 C71 887.8 75 887.8 78.6 888.7 L86 905.5 C84.5 909 82 912 79.8 914 L80.9 917.2 L72.3 938.3 L68.4 930.5 L70.8 926.6 C69 924 68 922 66.5 918 C64.5 914 63.5 910 63 906 C62.5 901 63.5 894 65 891 C66 889.5 67 888.7 68.4 888.3 Z" fill="#efb3b3"/>
  </g>
  <circle cx="72.6" cy="902" r="43.8" fill="none" stroke="#d9773a" stroke-width="2"/>

  <circle cx="441.2" cy="902" r="43.5" fill="#fff"/>
  <circle cx="447.3" cy="868.7" r="8.6" fill="#e9edf0"/>
  <g clip-path="url(#cB)">
    <path d="M410 932 C413 927 420 921 431.2 917 L449.8 916.5 C458 918 466 921 470.9 924.2 C472.5 925.5 473.5 927.5 474 930 L474 950 L410 950 Z" fill="#519dd2"/>
    <path d="M432 910 L448.9 910 L448.9 921 C448 923.5 446 924.3 443 924.3 C439 924.3 435.5 922.5 433.3 920 Z" fill="#965e66"/>
    <path d="M431 892.9 C432.5 891.3 434 891 435.4 891.2 C438 891.6 440 893.4 442.2 893.7 C445.5 893.8 449 892.6 452 892.9 C453.3 893.2 453.9 894.5 454 897 L454 902 C453.8 906.5 451.5 911 447 913.2 L437 913.2 C432.5 911 430.3 906 430 901 L430 897 C430 895 430.3 893.8 431 892.9 Z" fill="#965e66"/>
    <path d="M428.2 904.7 C427.2 900 427.2 895 427.8 892 C428.8 887.5 430.5 884.5 432.9 882.7 C435.5 879.8 438.5 878 441.3 878 C443.5 878 445.5 879.5 447 880 C449.5 880.8 452 880.2 454 880.6 L453.5 882.3 C456.5 884 458.5 887 458.7 890.3 C459 895 457.6 900.5 455.7 905.5 L455.2 897 C455 894.5 454 893.2 452.3 892.9 C449 892.6 445.5 893.8 442.2 893.7 C440 893.4 438 891.6 435.4 891.2 C434 891 432 891.3 430.3 892.9 C429.3 894 428.8 895 428.7 897 Z" fill="#2d2f44"/>
  </g>
  <circle cx="441.2" cy="902" r="43.8" fill="none" stroke="#d9773a" stroke-width="2"/>
</svg>

<div class="h" style="left:128.3px;top:841.8px;letter-spacing:0.69px">Government Lead</div>
<div class="t" style="left:129.2px;top:864.1px">The ORE gives government leaders<br>complete oversight of products,<br>projects, and contracts. It provides clear<br>visibility into progress, milestones, and<br>overall status, ensuring transparency<br>and accountability.</div>

<div class="h" style="left:499.3px;top:841.7px;letter-spacing:0.76px">Product/Contract Member</div>
<div class="t" style="left:499.9px;top:864px">Contractors and teams use the ORE to<br>upload, store, and manage deliverables.<br>This ensures the government retains full<br>ownership and control over all artifacts,<br>source codes, and outputs.</div>

</body></html>
